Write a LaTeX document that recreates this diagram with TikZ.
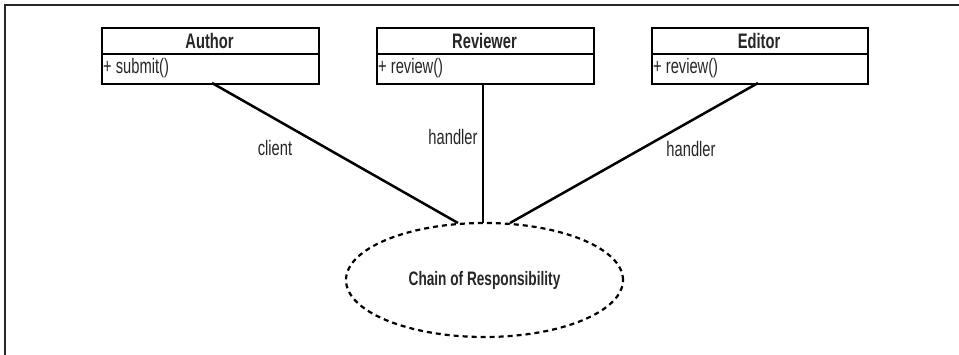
\documentclass[tikz,border=0pt]{standalone}
\usepackage{fontspec}
\setmainfont{Liberation Sans}[FakeStretch=0.7]
\usetikzlibrary{shapes.geometric}
\tikzset{
  classbox/.style={draw=black, line width=2.4pt, minimum width=217pt, minimum height=56pt, inner sep=0pt},
  headtxt/.style={font=\fontsize{21}{24}\selectfont\bfseries, text=black!85, inner sep=0pt},
  optxt/.style={font=\fontsize{21}{24}\selectfont, text=black!85, inner sep=0pt, anchor=west},
  lbl/.style={font=\fontsize{21}{24}\selectfont, text=black!85, inner sep=0pt},
  conn/.style={line width=2.5pt, black},
  frame/.style={line width=1.5pt, black!85}
}
\begin{document}
\begin{tikzpicture}[x=1pt,y=-1pt]
\useasboundingbox (0,0) rectangle (959,355);
\draw[frame] (5,355) -- (5,5) -- (959,5);
% classes
\foreach \n/\l/\r/\t/\o in {author/101/318/Author/+\ submit(), reviewer/376/593/Reviewer/+\ review(), editor/651/867/Editor/+\ review()}{
  \node[classbox, minimum width={\r-\l}, anchor=north west] (\n) at (\l,27) {};
  \draw[line width=2.4pt] (\l,54) -- (\r,54);
  \node[headtxt] (\n-h) at ({(\l+\r)/2},40.5) {\t};
  \node[optxt] (\n-o) at (\l+2,68) {\o};
}
\node[ellipse, draw, dashed, dash pattern=on 5pt off 4pt, line width=2.2pt, minimum width=277pt, minimum height=114pt, inner sep=0pt] (chain) at (484.5,280) {};
\node[font=\fontsize{19.5}{22}\selectfont\bfseries, text=black!85] (chaintxt) at (chain.center) {Chain of Responsibility};
\coordinate (ca) at (458,223);
\coordinate (cr) at (483,223);
\coordinate (ce) at (510,223);
\coordinate (aa) at (212,83);
\coordinate (ra) at (483,83);
\coordinate (ea) at (758,83);
\draw[conn] (aa) -- (ca);
\draw[conn] (ra) -- (cr);
\draw[conn] (ea) -- (ce);
\node[lbl] (l1) at (275,148) {client};
\node[lbl] (l2) at (453,137) {handler};
\node[lbl] (l3) at (691,149) {handler};
\end{tikzpicture}
\end{document}
